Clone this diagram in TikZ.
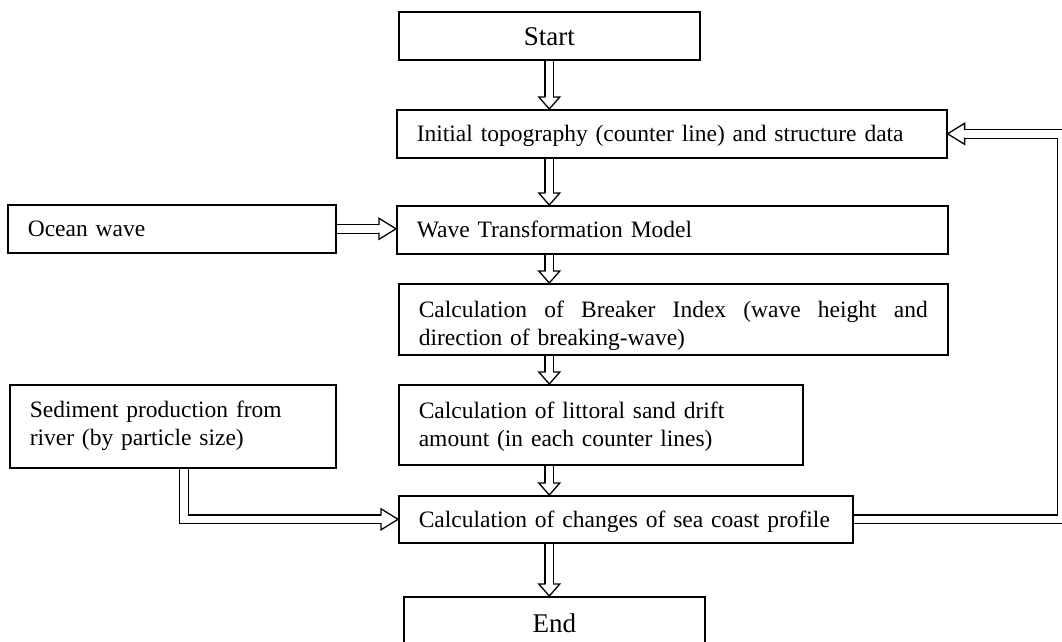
\documentclass[tikz,border=0pt]{standalone}
\usepackage{fontspec}
\setmainfont{Liberation Serif}
\usetikzlibrary{calc,backgrounds}

\tikzset{
    shaft/.style={draw=black, line width=1.3pt, double=white, double distance=7.5pt},
    headline/.style={draw=black, line width=1.3pt, line cap=rect, line join=miter}
}
\newcommand{\hollowhead}[3]{%
    \draw[headline, shift={(#1)}, rotate=#2] (-#3pt,4.4pt) -- (-#3pt,10.5pt) -- (0pt,0pt) -- (-#3pt,-10.5pt) -- (-#3pt,-4.4pt);%
}

\begin{document}
\begin{tikzpicture}[x=1pt, y=-1pt]
        \useasboundingbox (0,0) rectangle (1062,641);

        \begin{scope}[every node/.style={draw, line width=1.6pt, anchor=north west, inner xsep=20pt, inner ysep=0pt, align=left, font={\fontsize{23.5}{28}\selectfont}}]
            \node[text width=261pt, text height=34pt, text depth=14pt, align=center, font={\fontsize{27}{32}\selectfont}] (start) at (398,11) {Start};
            \node[text width=510pt, text height=32pt, text depth=16pt] (topo) at (396,109) {Initial topography (counter line) and structure data};

            \node[text width=288pt, text height=32pt, text depth=16pt] (ocean) at (7,204) {Ocean wave};
            \node[text width=511pt, text height=32pt, text depth=16pt] (wave) at (396,205) {Wave Transformation Model};

            \node[text width=509pt, text height=34pt, text depth=37pt] (breaker) at (398,283) {\hbox to 509pt{Calculation \hfill of \hfill Breaker \hfill Index \hfill (wave \hfill height \hfill and}\\direction of breaking-wave)};

            \node[text width=286pt, text height=33pt, text depth=50pt] (sed) at (9,384) {Sediment production from\\river (by particle size)};
            \node[text width=364pt, text height=34pt, text depth=46pt] (drift) at (398,384) {Calculation of littoral sand drift\\amount (in each counter lines)};

            \node[text width=414pt, text height=32pt, text depth=15pt] (coast) at (398,495) {Calculation of changes of sea coast profile};

            \node[text width=261pt, text height=36pt, text depth=14pt, align=center, font={\fontsize{27}{32}\selectfont}] (end) at (403,596) {End};
        \end{scope}

        \coordinate (sedout) at ($(sed.south west)+(175,0)$);
        \coordinate (loop) at (1062,0);

        \begin{pgfonlayer}{background}
            \draw[shaft] (start.south) -- ($(start.south |- topo.north)+(0,12pt)$);
            \draw[shaft] (start.south |- topo.south) -- ($(start.south |- wave.north)+(0,12pt)$);
            \draw[shaft] (start.south |- wave.south) -- ($(start.south |- breaker.north)+(0,12pt)$);
            \draw[shaft] (start.south |- breaker.south) -- ($(start.south |- drift.north)+(0,12pt)$);
            \draw[shaft] (start.south |- drift.south) -- ($(start.south |- coast.north)+(0,12pt)$);
            \draw[shaft] (start.south |- coast.south) -- ($(start.south |- end.north)+(0,12pt)$);

            \draw[shaft] (ocean.east) -- ($(ocean.east -| wave.west)+(-17pt,0)$);
            \draw[shaft] (sedout) |- ($(coast.west)+(-17pt,0)$);
            \draw[shaft] (coast.east) -| (loop |- topo.east) -- ($(topo.east)+(17pt,0)$);
        \end{pgfonlayer}

        \hollowhead{start.south |- topo.north}{-90}{12}
        \hollowhead{start.south |- wave.north}{-90}{12}
        \hollowhead{start.south |- breaker.north}{-90}{12}
        \hollowhead{start.south |- drift.north}{-90}{12}
        \hollowhead{start.south |- coast.north}{-90}{12}
        \hollowhead{start.south |- end.north}{-90}{12}

        \hollowhead{ocean.east -| wave.west}{0}{17}
        \hollowhead{coast.west}{0}{17}
        \hollowhead{topo.east}{180}{17}
    \end{tikzpicture}
\end{document}
